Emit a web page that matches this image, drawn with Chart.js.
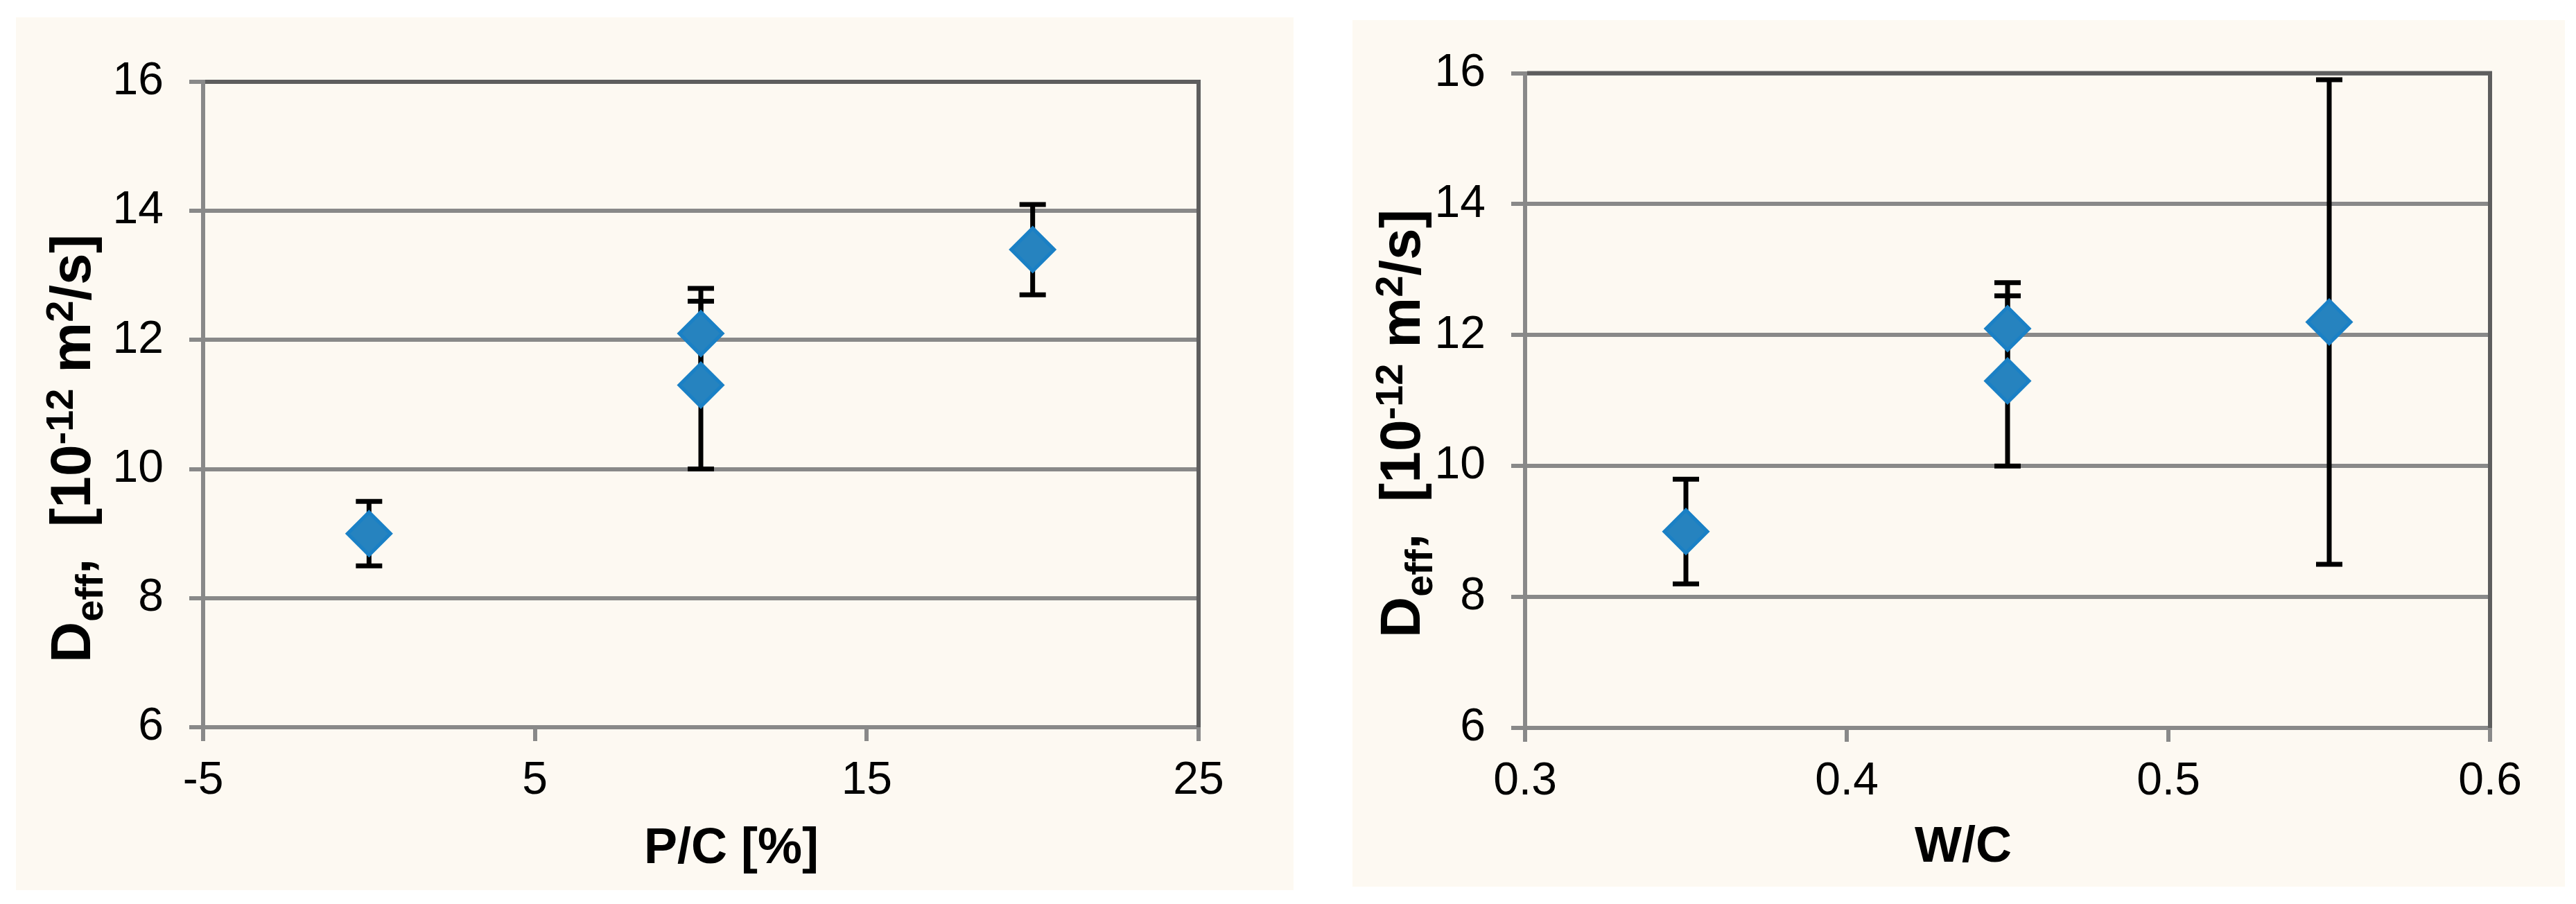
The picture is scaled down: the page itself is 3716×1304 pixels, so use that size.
<!DOCTYPE html>
<html>
<head>
<meta charset="utf-8">
<script src="https://cdn.jsdelivr.net/npm/chart.js@4.4.1/dist/chart.umd.min.js"></script>
<style>
  html, body { margin: 0; padding: 0; background: #ffffff; }
  body { width: 3716px; height: 1304px; position: relative; overflow: hidden; }
  .panel { position: absolute; background: #fdf9f2; }
  canvas { display: block; }
</style>
</head>
<body>
<div class="panel" id="p1" style="left:23px; top:25px; width:1843px; height:1259px;">
  <canvas id="c1" width="1843" height="1259"></canvas>
</div>
<div class="panel" id="p2" style="left:1951px; top:29px; width:1749px; height:1250px;">
  <canvas id="c2" width="1749" height="1250"></canvas>
</div>
<script>
// ---- Data ----
const pcX   = [0, 10, 10, 20];          // P/C [%]
const pcY   = [9.0, 12.1, 11.3, 13.4];  // D_eff
const pcErr = [0.5, 0.7, 1.3, 0.7];     // symmetric error

const wcX   = [0.35, 0.45, 0.45, 0.55]; // W/C
const wcY   = [9.0, 12.1, 11.3, 12.2];  // D_eff
const wcErr = [0.8, 0.7, 1.3, 3.7];

const pcTicks = [-5, 5, 15, 25];
const wcTicks = [0.3, 0.4, 0.5, 0.6];
const yTicks  = [6, 8, 10, 12, 14, 16];

const xTitlePC = 'P/C [%]';
const xTitleWC = 'W/C';
// y title pieces: [text, kind] kind: n=normal, sub, sup
const yTitleParts = [['D','n'],['eff','sub'],[',  ','n'],['[10','n'],['-12','sup'],[' m','n'],['2','sup'],['/s]','n']];

// ---- Styles ----
const FONT = "'Liberation Sans', Arial, sans-serif";
const GRID = '#898989';
const FRAME = '#5e5e5e';
const FILL = '#2683bf';
const EDGE = '#1a80c5';

const errorBars = {
  id: 'errorBars',
  beforeDatasetsDraw(chart) {
    const {ctx, scales: {x, y}} = chart;
    const ds = chart.data.datasets[0];
    ctx.save();
    ctx.strokeStyle = '#000';
    ctx.lineWidth = 7;
    ds.data.forEach((p, i) => {
      const e = ds.errors[i];
      const px = x.getPixelForValue(p.x);
      const t = y.getPixelForValue(p.y + e);
      const b = y.getPixelForValue(p.y - e);
      ctx.beginPath();
      ctx.moveTo(px, t); ctx.lineTo(px, b);
      ctx.moveTo(px - 19, t); ctx.lineTo(px + 19, t);
      ctx.moveTo(px - 19, b); ctx.lineTo(px + 19, b);
      ctx.stroke();
    });
    ctx.restore();
  }
};

const frame = {
  id: 'frame',
  beforeDatasetsDraw(chart) {
    const {ctx, chartArea: a} = chart;
    ctx.save();
    ctx.strokeStyle = FRAME;
    ctx.lineWidth = 6;
    ctx.beginPath();
    ctx.moveTo(a.left + 3, a.top);
    ctx.lineTo(a.right, a.top);
    ctx.lineTo(a.right, a.bottom);
    ctx.stroke();
    ctx.restore();
  }
};

const titles = {
  id: 'titles',
  afterDraw(chart, args, opts) {
    const {ctx} = chart;
    const big = opts.size, small = Math.round(opts.size * 0.68);
    ctx.save();
    // x-axis title
    ctx.fillStyle = '#000';
    ctx.font = `bold ${opts.xsize}px ${FONT}`;
    ctx.textAlign = 'center';
    ctx.textBaseline = 'middle';
    ctx.fillText(opts.xtext, opts.xcx, opts.xcy);
    // y-axis title (rich text, rotated)
    let total = 0;
    const segs = yTitleParts.map(([t, k]) => {
      const s = k === 'n' ? big : small;
      ctx.font = `bold ${s}px ${FONT}`;
      const w = ctx.measureText(t).width;
      total += w;
      return {t, k, s, w};
    });
    ctx.translate(opts.x, opts.cy);
    ctx.rotate(-Math.PI / 2);
    ctx.textBaseline = 'alphabetic';
    ctx.textAlign = 'left';
    let cx = -total / 2;
    segs.forEach(sg => {
      ctx.font = `bold ${sg.s}px ${FONT}`;
      let dy = 0;
      if (sg.k === 'sub') dy = big * 0.22;
      if (sg.k === 'sup') dy = -big * 0.31;
      ctx.fillText(sg.t, cx, dy);
      cx += sg.w;
    });
    ctx.restore();
  }
};

function makeChart(id, xs, ys, errs, xTicks, xmin, xmax, lay, tOpts) {
  const tickFont = {family: FONT, size: 66};
  return new Chart(document.getElementById(id), {
    type: 'scatter',
    data: {
      datasets: [{
        data: xs.map((x, i) => ({x, y: ys[i]})),
        errors: errs,
        pointStyle: 'rectRot',
        pointRadius: 31,
        pointHoverRadius: 31,
        backgroundColor: FILL,
        borderColor: EDGE,
        borderWidth: 5
      }]
    },
    options: {
      responsive: false,
      animation: false,
      devicePixelRatio: 1,
      layout: {padding: {left: 0, top: lay.top, right: lay.right, bottom: 0}},
      plugins: {legend: {display: false}, tooltip: {enabled: false}, titles: tOpts},
      scales: {
        x: {
          type: 'linear', min: xmin, max: xmax,
          afterBuildTicks: s => { s.ticks = xTicks.map(v => ({value: v})); },
          afterFit: s => { s.height = lay.xh; },
          grid: {drawOnChartArea: false, drawTicks: true, tickLength: 20, color: GRID, lineWidth: 6},
          border: {color: GRID, width: 6},
          ticks: {font: tickFont, color: '#000', padding: 18, maxRotation: 0,
                  callback: v => String(v)}
        },
        y: {
          type: 'linear', min: 6, max: 16,
          afterBuildTicks: s => { s.ticks = yTicks.map(v => ({value: v})); },
          afterFit: s => { s.width = lay.yw; },
          grid: {color: GRID, lineWidth: 6, tickLength: 20},
          border: {color: GRID, width: 6},
          ticks: {font: tickFont, color: '#000', padding: 37, callback: v => String(v)}
        }
      }
    },
    plugins: [frame, errorBars, titles]
  });
}

makeChart('c1', pcX, pcY, pcErr, pcTicks, -5, 25,
  {top: 93, right: 137, xh: 235, yw: 270},
  {x: 107, cy: 622, size: 82, xtext: xTitlePC, xsize: 72, xcx: 1032, xcy: 1200});
makeChart('c2', wcX, wcY, wcErr, wcTicks, 0.3, 0.6,
  {top: 61, right: 108, xh: 229, yw: 249},
  {x: 97, cy: 582, size: 82, xtext: xTitleWC, xsize: 72, xcx: 881, xcy: 1194});
</script>
</body>
</html>
